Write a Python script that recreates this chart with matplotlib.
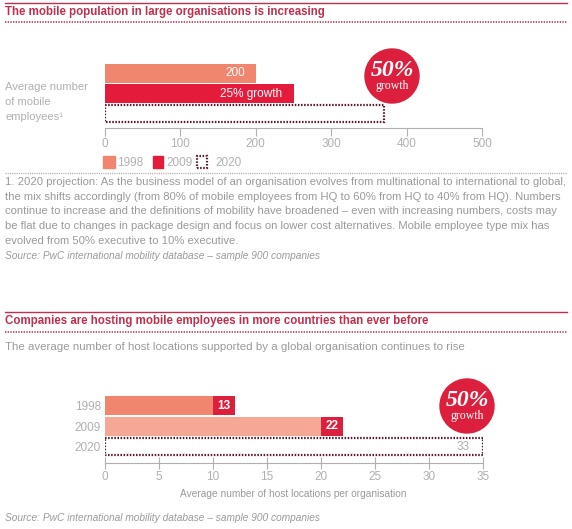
import matplotlib
matplotlib.use('Agg')
import matplotlib.pyplot as plt
from matplotlib.patches import Rectangle, Ellipse
from matplotlib.lines import Line2D

# chart 1 - mobile employees
mob_years = ['1998', '2009', '2020']
mob_values = [200, 250, 370]
mob_labels = ['200', '25% growth', '']

# chart 2 - host locations
host_years = ['1998', '2009', '2020']
host_bar = [10, 20, 35]
host_tag = [2, 2, 0]
host_values = [13, 22, 33]

SALMON = '#f0866e'
RED = '#e41b3b'
PINK = '#f5a896'
DARKRED = '#dc1f3c'
MAROON = '#5a1a2c'
HEAD = '#c0304c'
GREY = '#9a9a9a'
LGREY = '#b0b0b0'

plt.rcParams['font.family'] = ['Liberation Sans', 'DejaVu Sans']

W, H = 572, 529
fig = plt.figure(figsize=(W / 100, H / 100), dpi=100)


def fx(x):
    return x / W


def fy(y):
    return 1 - y / H


def rect(x0, y0, x1, y1):
    return [x0 / W, 1 - y1 / H, (x1 - x0) / W, (y1 - y0) / H]


def header(y_top, y_text, y_dot, title):
    fig.add_artist(Line2D([fx(5), fx(567)], [fy(y_top)] * 2, color=HEAD, lw=1))
    fig.add_artist(Line2D([fx(5), fx(567)], [fy(y_dot)] * 2, color=HEAD, lw=1.2,
                          linestyle=(0, (0.8, 0.8))))
    fig.text(fx(5), fy(y_text), title, color=HEAD, fontsize=8.3, fontweight='bold',
             ha='left', va='center')


def badge(cx, cy, r=27):
    fig.add_artist(Ellipse((fx(cx), fy(cy)), 2 * r / W, 2 * r / H, color=DARKRED))
    fig.text(fx(cx), fy(cy - 5), '50%', color='white', fontsize=17, fontweight='bold',
             fontstyle='italic', family='Liberation Serif', ha='center', va='center')
    fig.text(fx(cx), fy(cy + 10), 'growth', color='white', fontsize=8.5,
             family='Liberation Serif', ha='center', va='center')


# ---------------- section 1 ----------------
header(3, 12, 22, 'The mobile population in large organisations is increasing')

ax1 = fig.add_axes(rect(105, 60, 482, 128))
ax1.barh([0, 1], mob_values[:2], height=0.95, color=[SALMON, RED])
ax1.barh(2, mob_values[2], height=0.85, fill=False, edgecolor=MAROON, lw=1.6,
         linestyle=(0, (0.7, 0.7)))
for i, lab in enumerate(mob_labels):
    if lab:
        ax1.annotate(lab, (mob_values[i], i), xytext=(-8, 0), textcoords='offset points',
                     ha='right', va='center', color='white', fontsize=8.5)
ax1.set_xlim(0, 500)
ax1.set_ylim(2.725, -0.675)
ax1.set_xticks(range(0, 501, 100))
ax1.set_yticks([])
for s in ['top', 'left', 'right']:
    ax1.spines[s].set_visible(False)
ax1.spines['bottom'].set_color(LGREY)
ax1.tick_params(axis='x', direction='out', length=6, color=LGREY, labelcolor=LGREY,
                labelsize=8.5, pad=1)
ax1.patch.set_visible(False)

fig.text(fx(5), fy(102), 'Average number\nof mobile\nemployees\u00b9', color=LGREY,
         fontsize=8.1, ha='left', va='center', linespacing=1.6)

badge(392, 76)

# legend
fig.add_artist(Rectangle((fx(103), fy(168)), 12 / W, 12 / H, color=SALMON))
fig.text(fx(117), fy(163), mob_years[0], color=LGREY, fontsize=8.5, va='center')
fig.add_artist(Rectangle((fx(153), fy(168)), 10 / W, 12 / H, color=RED))
fig.text(fx(166), fy(163), mob_years[1], color=LGREY, fontsize=8.5, va='center')
fig.add_artist(Rectangle((fx(197), fy(168)), 10 / W, 12 / H, fill=False, edgecolor=MAROON,
                         lw=1.6, linestyle=(0, (0.7, 0.7))))
fig.text(fx(215), fy(163), mob_years[2], color=LGREY, fontsize=8.5, va='center')

fig.add_artist(Line2D([fx(5), fx(567)], [fy(173)] * 2, color=LGREY, lw=1,
                      linestyle=(0, (0.8, 0.8))))

note = ('1. 2020 projection: As the business model of an organisation evolves from multinational to international to global,\n'
        'the mix shifts accordingly (from 80% of mobile employees from HQ to 60% from HQ to 40% from HQ). Numbers\n'
        'continue to increase and the definitions of mobility have broadened \u2013 even with increasing numbers, costs may\n'
        'be flat due to changes in package design and focus on lower cost alternatives. Mobile employee type mix has\n'
        'evolved from 50% executive to 10% executive.')
fig.text(fx(5), fy(177), note, color=GREY, fontsize=8.1, ha='left', va='top', linespacing=1.58)

src = 'Source: PwC international mobility database \u2013 sample 900 companies'
fig.text(fx(5), fy(256), src, color=GREY, fontsize=7.3, fontstyle='italic', va='center')

# ---------------- section 2 ----------------
header(312, 321, 332, 'Companies are hosting mobile employees in more countries than ever before')
fig.text(fx(5), fy(347), 'The average number of host locations supported by a global organisation continues to rise',
         color=GREY, fontsize=8.25, va='center')

ax2 = fig.add_axes(rect(105, 390, 483, 463))
ax2.barh([0, 1], host_bar[:2], height=0.93, color=[SALMON, PINK])
ax2.barh([0, 1], host_tag[:2], left=host_bar[:2], height=0.93, color=DARKRED)
ax2.barh(2, host_bar[2], height=0.83, fill=False, edgecolor=MAROON, lw=1.6,
         linestyle=(0, (0.7, 0.7)))
for i in range(2):
    ax2.text(host_bar[i] + host_tag[i] / 2, i, str(host_values[i]), ha='center', va='center',
             color='white', fontsize=8.5, fontweight='bold')
ax2.annotate(str(host_values[2]), (host_bar[2], 2), xytext=(-10, 0), textcoords='offset points',
             ha='right', va='center', color=LGREY, fontsize=8.5)
ax2.set_xlim(0, 35)
ax2.set_ylim(2.8, -0.756)
ax2.set_xticks(range(0, 36, 5))
ax2.set_yticks(range(3))
ax2.set_yticklabels(host_years)
for s in ['top', 'left', 'right']:
    ax2.spines[s].set_visible(False)
ax2.spines['bottom'].set_color(LGREY)
ax2.tick_params(axis='x', direction='inout', length=8, color=LGREY, labelcolor=LGREY,
                labelsize=8.5, pad=2)
ax2.tick_params(axis='y', length=0, labelcolor=LGREY, labelsize=8.5, pad=3)
ax2.patch.set_visible(False)

fig.text(fx(293), fy(494), 'Average number of host locations per organisation', color=GREY,
         fontsize=7.3, ha='center', va='center')

badge(467, 406)

fig.text(fx(5), fy(518), src, color=GREY, fontsize=7.3, fontstyle='italic', va='center')

fig.savefig('out.png', dpi=100)
